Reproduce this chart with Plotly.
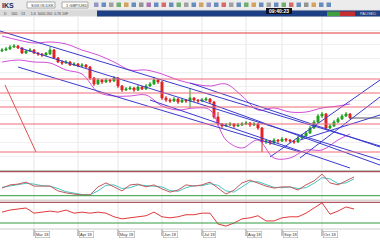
import plotly.graph_objects as go

W, H = 380, 240

# ---------------- data ----------------
open_ = [119,120,121,123,124,122,117,119,120,117,116,115,116,120,112,108,107,108,105,106,104,105,
         103,92,86,90,88,90,89,92,84,80,81,82,80,83,81,84,86,90,88,72,70,69,71,68,70,69,72,70,69,70,
         71,68,53,46,44,45,46,44,45,46,47,45,46,42,28,29,27,30,29,31,30,29,28,32,34,37,42,48,54,56,
         42,44,48,51,54,56]
close = [120,121,123,124,122,117,119,120,117,116,115,117,120,112,108,107,108,105,106,104,105,103,
         92,86,90,88,90,89,92,84,80,81,82,80,83,81,84,86,90,88,72,70,69,71,68,70,69,72,70,69,70,71,
         68,53,46,44,45,46,44,45,46,47,45,46,42,28,29,27,30,29,31,30,29,28,32,34,37,42,48,54,56,42,
         44,48,51,54,56,52]
high = [122,123,125,126,125,123,120,122,121,118,117,118,123,121,113,110,110,109,108,107,107,106,
        104,93,92,91,92,91,94,93,85,83,84,83,85,84,86,88,93,91,89,74,72,73,72,72,71,82,73,71,72,73,
        72,69,58,47,47,48,47,47,48,49,48,48,47,43,31,30,32,31,33,32,31,30,34,36,39,44,50,56,58,57,
        46,50,53,56,58,57]
low = [118,119,120,122,121,116,116,118,116,114,113,114,115,111,107,105,106,104,104,103,103,102,
       90,84,85,86,87,87,88,82,78,79,80,78,79,80,80,83,85,86,70,68,67,68,66,67,67,62,68,67,68,69,
       66,51,44,42,43,44,42,43,44,45,43,44,40,18,26,25,26,27,28,28,27,26,27,31,33,36,41,47,52,40,
       41,43,47,50,53,51]

h_levels = [137, 91, 77, 63, 46, 18]

band_x = [0,4,8,12,16,20,24,28,32,36,40,44,48,52,56,60,64,68,72,76,80,84,87]
band_upper = [134,130,127,128,126,120,115,108,100,100,96,90,86,84,86,74,60,62,58,58,62,64,66]
band_lower = [108,110,108,107,100,96,78,74,74,75,64,60,62,60,30,22,30,12,12,20,20,30,36]

# trend lines: (x0, p0, x1, p1) in candle index / price units
desc_lines = [(-0.5,139,94.5,24), (4.5,122,94.5,10), (4,103,74.5,18),
              (47,87,94.5,23), (37,70,87,2), (49.5,70,94.5,5)]
asc_lines = [(67,13,94.5,90), (74.5,12,94.5,73), (74.5,30,94.5,55)]
red_diag = [(0.75,85,8.5,18)]

osc_x = list(range(0, 89, 2))
stoch_k = [39,47,49,54,44,44,44,32,27,24,22,22,42,52,42,32,47,49,42,47,37,29,34,47,44,47,54,39,24,
           34,52,59,52,44,39,42,42,34,47,57,74,52,47,57,67]
stoch_d = [41,44,48,51,49,45,44,38,30,26,23,22,32,46,47,38,40,47,45,44,42,33,31,40,45,45,50,46,32,
           29,43,55,55,48,41,40,42,38,40,51,65,62,50,52,62]
rsi = [51,55,57,59,49,51,53,51,55,49,51,49,51,49,42,38,40,42,44,51,42,40,42,46,46,49,49,28,24,30,
       38,40,44,34,34,40,42,42,49,59,69,47,53,61,57]

month_idx = [8, 19, 29, 40, 50, 61, 70, 80]
month_lbl = ["Mar 18", "Apr 18", "May 18", "Jun 18", "Jul 18", "Aug 18", "Sep 18", "Oct 18"]

last_price = 52

# ---------------- figure ----------------
def py(y):
    return (H - y) / H

def pxp(x):
    return x / W

fig = go.Figure()

# bands
fig.add_trace(go.Scatter(x=band_x, y=band_upper, mode="lines", line=dict(color="#d24fd8", width=1, shape="spline"),
                         xaxis="x", yaxis="y", hoverinfo="skip"))
fig.add_trace(go.Scatter(x=band_x, y=band_lower, mode="lines", line=dict(color="#d24fd8", width=1, shape="spline"),
                         xaxis="x", yaxis="y", hoverinfo="skip"))

for (x0, p0, x1, p1) in desc_lines + asc_lines:
    fig.add_trace(go.Scatter(x=[x0, x1], y=[p0, p1], mode="lines", line=dict(color="#3a3ad0", width=1),
                             xaxis="x", yaxis="y", hoverinfo="skip"))
for (x0, p0, x1, p1) in red_diag:
    fig.add_trace(go.Scatter(x=[x0, x1], y=[p0, p1], mode="lines", line=dict(color="#e05050", width=1),
                             xaxis="x", yaxis="y", hoverinfo="skip"))

fig.add_trace(go.Candlestick(x=list(range(len(close))), open=open_, high=high, low=low, close=close,
                             increasing=dict(line=dict(color="#1fa31f", width=1), fillcolor="#1fa31f"),
                             decreasing=dict(line=dict(color="#e52222", width=1), fillcolor="#e52222"),
                             whiskerwidth=0, xaxis="x", yaxis="y"))

# oscillators
fig.add_trace(go.Scatter(x=osc_x, y=stoch_d, mode="lines", line=dict(color="#49c4c4", width=1),
                         xaxis="x", yaxis="y2", hoverinfo="skip"))
fig.add_trace(go.Scatter(x=osc_x, y=stoch_k, mode="lines", line=dict(color="#c45a5a", width=1),
                         xaxis="x", yaxis="y2", hoverinfo="skip"))
fig.add_trace(go.Scatter(x=osc_x, y=rsi, mode="lines", line=dict(color="#e03a3a", width=1),
                         xaxis="x", yaxis="y3", hoverinfo="skip"))

shapes = []
ann = []

# vertical month gridlines across all panes
for idx in month_idx:
    shapes.append(dict(type="line", xref="x", yref="paper", x0=idx, x1=idx, y0=py(229), y1=py(17),
                       line=dict(color="#e6e6e6", width=1), layer="below"))
    shapes.append(dict(type="line", xref="x", yref="paper", x0=idx, x1=idx, y0=py(236), y1=py(229),
                       line=dict(color="#888888", width=1)))

# horizontal price levels
for i, lv in enumerate(h_levels):
    shapes.append(dict(type="line", xref="paper", yref="y", x0=0, x1=1, y0=lv, y1=lv,
                       line=dict(color="#e23b3b" if i == 0 else "#ee6a78", width=1)))
# last price line
shapes.append(dict(type="line", xref="x", yref="y", x0=len(close) - 1, x1=94.5, y0=last_price, y1=last_price,
                   line=dict(color="#555566", width=1)))

# oscillator levels
for ref, top, bot in (("y2", 80, 20), ("y3", 70, 30)):
    shapes.append(dict(type="line", xref="paper", yref=ref, x0=0, x1=1, y0=top, y1=top,
                       line=dict(color="#9c2a3a", width=1)))
    shapes.append(dict(type="line", xref="paper", yref=ref, x0=0, x1=1, y0=bot, y1=bot,
                       line=dict(color="#2f9a3f", width=1)))

# pane separators
shapes.append(dict(type="rect", xref="paper", yref="paper", x0=0, x1=1, y0=py(171.5), y1=py(170),
                   fillcolor="#b9c9bd", line=dict(width=0), layer="below"))
shapes.append(dict(type="rect", xref="paper", yref="paper", x0=0, x1=1, y0=py(201), y1=py(199.5),
                   fillcolor="#d6d6d6", line=dict(width=0), layer="below"))
shapes.append(dict(type="line", xref="paper", yref="paper", x0=0, x1=1, y0=py(229), y1=py(229),
                   line=dict(color="#cccccc", width=1)))

# toolbar
shapes.append(dict(type="rect", xref="paper", yref="paper", x0=0, x1=1, y0=py(9.5), y1=1,
                   fillcolor="#ececec", line=dict(width=0)))
shapes.append(dict(type="rect", xref="paper", yref="paper", x0=0, x1=1, y0=py(16.5), y1=py(9.5),
                   fillcolor="#dadada", line=dict(width=0)))
shapes.append(dict(type="rect", xref="paper", yref="paper", x0=pxp(97), x1=1, y0=py(16.5), y1=py(10.5),
                   fillcolor="#1d3f83", line=dict(width=0)))
for bx0, bx1 in ((27, 55), (62, 88)):
    shapes.append(dict(type="rect", xref="paper", yref="paper", x0=pxp(bx0), x1=pxp(bx1), y0=py(8), y1=py(2),
                       fillcolor="#ffffff", line=dict(color="#aaaaaa", width=1)))
icon_cols = ["#7a7ab8", "#3b6db0", "#888888", "#4a9a4a", "#cc8833", "#3b6db0", "#777777", "#9a4a9a",
             "#3b6db0", "#d04040", "#3b6db0", "#4a9a4a", "#888888", "#3b6db0", "#cc8833", "#7a7ab8",
             "#3b6db0", "#d04040", "#888888", "#3b6db0", "#4a9a4a", "#cc8833", "#3b6db0", "#888888",
             "#3b6db0", "#4a9a4a", "#d04040", "#3b6db0", "#777777", "#cc8833", "#3b6db0", "#3b6db0"]
for k, c in enumerate(icon_cols):
    x0 = 94 + k * 7.5
    shapes.append(dict(type="rect", xref="paper", yref="paper", x0=pxp(x0), x1=pxp(x0 + 4.5),
                       y0=py(7), y1=py(2.5), fillcolor=c, line=dict(width=0), opacity=0.75))
shapes.append(dict(type="rect", xref="paper", yref="paper", x0=pxp(266), x1=pxp(292), y0=py(14), y1=py(8),
                   fillcolor="#101018", line=dict(width=0)))
shapes.append(dict(type="rect", xref="paper", yref="paper", x0=pxp(327), x1=pxp(340), y0=py(16), y1=py(11.5),
                   fillcolor="#3f9f3f", line=dict(width=0)))
shapes.append(dict(type="rect", xref="paper", yref="paper", x0=pxp(340), x1=pxp(355), y0=py(16), y1=py(11.5),
                   fillcolor="#c62f2f", line=dict(width=0)))

ann.append(dict(text="<b>IKS</b>", x=pxp(0), y=py(5), xref="paper", yref="paper", xanchor="left",
                yanchor="middle", showarrow=False, font=dict(size=7, color="#1a2a5a", family="Liberation Sans")))
ann.append(dict(text="SGX:IS.DXK", x=pxp(29), y=py(5), xref="paper", yref="paper", xanchor="left",
                yanchor="middle", showarrow=False, font=dict(size=4, color="#333333", family="Liberation Sans")))
ann.append(dict(text="1 GBP/USD", x=pxp(64), y=py(5), xref="paper", yref="paper", xanchor="left",
                yanchor="middle", showarrow=False, font=dict(size=4, color="#333333", family="Liberation Sans")))
ann.append(dict(text="D     500    13      1.6  5000 200  0.76 10F", x=pxp(2), y=py(13.5), xref="paper",
                yref="paper", xanchor="left", yanchor="middle", showarrow=False,
                font=dict(size=3.5, color="#444444", family="Liberation Sans")))
ann.append(dict(text="<b>09:40:23</b>", x=pxp(279), y=py(11), xref="paper", yref="paper", xanchor="center",
                yanchor="middle", showarrow=False, font=dict(size=5, color="#ffffff", family="Liberation Sans")))
ann.append(dict(text="PAUSED", x=pxp(378), y=py(13.8), xref="paper", yref="paper", xanchor="right",
                yanchor="middle", showarrow=False, font=dict(size=4, color="#dddddd", family="Liberation Sans")))

# month labels
for idx, lbl in zip(month_idx, month_lbl):
    ann.append(dict(text=lbl, x=idx, y=py(234), xref="x", yref="paper", xanchor="left", yanchor="middle",
                    showarrow=False, font=dict(size=4, color="#333333", family="Liberation Sans"),
                    bordercolor="#999999", borderwidth=0.5, borderpad=0.5, xshift=1))

fig.update_layout(
    width=W, height=H, margin=dict(l=0, r=0, t=0, b=0),
    paper_bgcolor="#ffffff", plot_bgcolor="#ffffff", showlegend=False,
    shapes=shapes, annotations=ann,
    xaxis=dict(domain=[0, 1], range=[-0.5, 94.5], showticklabels=False, rangeslider=dict(visible=False),
               showgrid=False, zeroline=False, anchor="y3", fixedrange=True),
    yaxis=dict(domain=[py(170), py(17)], range=[0, 153], showticklabels=False, showgrid=True,
               gridcolor="#f0f0f0", dtick=14, zeroline=False, fixedrange=True),
    yaxis2=dict(domain=[py(199), py(171)], range=[11.75, 81.75], showticklabels=False, showgrid=False,
                zeroline=False, fixedrange=True),
    yaxis3=dict(domain=[py(229), py(201)], range=[18.4, 72.5], showticklabels=False, showgrid=False,
                zeroline=False, fixedrange=True),
)

fig.write_html("out.html")
